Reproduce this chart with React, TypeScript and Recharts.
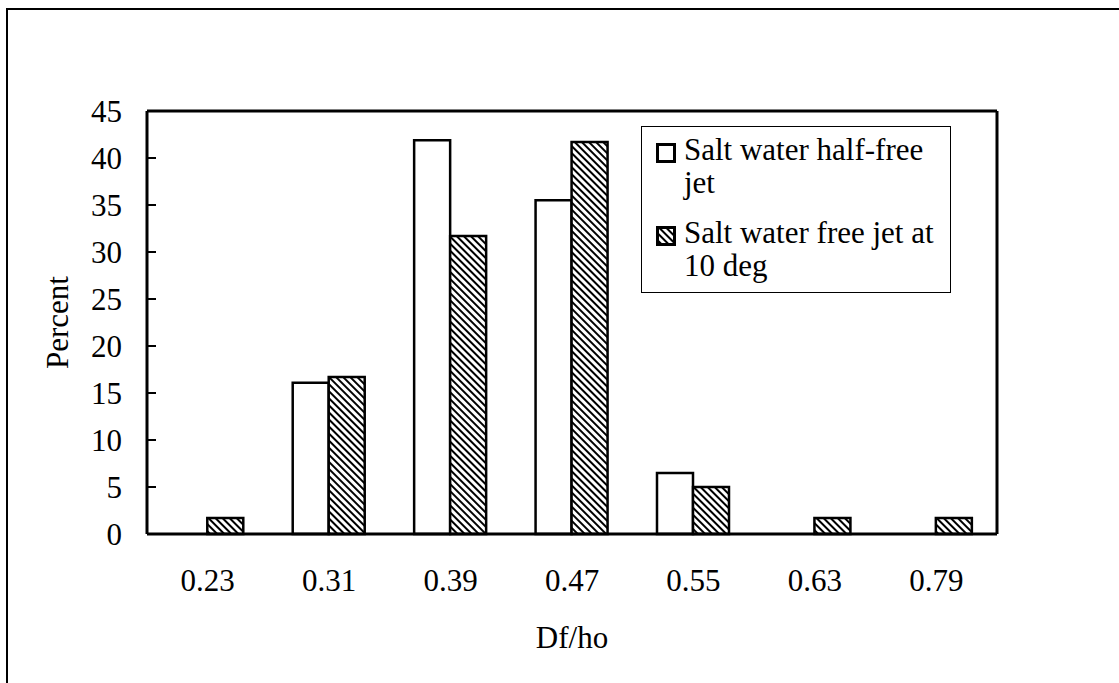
import React from 'react';
import { BarChart, Bar, XAxis, YAxis, Legend, Label } from 'recharts';

const categories = ['0.23', '0.31', '0.39', '0.47', '0.55', '0.63', '0.79'];
const halfFreeJet = [0, 16.1, 41.9, 35.5, 6.5, 0, 0];
const freeJet10deg = [1.7, 16.7, 31.7, 41.7, 5.0, 1.7, 1.7];
const yTicks = [0, 5, 10, 15, 20, 25, 30, 35, 40, 45];
const seriesNames = ['Salt water half-free jet', 'Salt water free jet at 10 deg'];

const data = categories.map((c, i) => ({ cat: c, half: halfFreeJet[i], free: freeJet10deg[i] }));

const FONT = 'Liberation Serif, Times New Roman, serif';
const FS = 31;

const HatchDefs = ({ id }: { id: string }) => (
  <defs>
    <pattern id={id} patternUnits="userSpaceOnUse" width={5} height={5} patternTransform="rotate(-45)">
      <rect x={0} y={0} width={5} height={5} fill="#fff" />
      <line x1={1} y1={0} x2={1} y2={5} stroke="#000" strokeWidth={2} />
    </pattern>
  </defs>
);

const Swatch = ({ hatched }: { hatched: boolean }) => (
  <svg width={20} height={20} style={{ flex: 'none', marginTop: 10, marginRight: 8, display: 'block' }}>
    {hatched && <HatchDefs id="hatchLegend" />}
    <rect x={1.5} y={1.5} width={17} height={17} fill={hatched ? 'url(#hatchLegend)' : '#fff'} stroke="#000" strokeWidth={3} />
  </svg>
);

const textStyle: React.CSSProperties = {
  fontFamily: FONT,
  fontSize: FS,
  lineHeight: '33px',
  color: '#000',
  whiteSpace: 'nowrap',
};

const LegendBox = () => (
  <div
    style={{
      border: '1.5px solid #000',
      background: '#fff',
      width: 310,
      height: 167,
      boxSizing: 'border-box',
      padding: '6px 0 0 14px',
      fontFamily: FONT,
      textAlign: 'left',
    }}
  >
    <div style={{ display: 'flex', alignItems: 'flex-start' }}>
      <Swatch hatched={false} />
      <span style={textStyle}>Salt water half-free<br />jet</span>
    </div>
    <div style={{ display: 'flex', alignItems: 'flex-start', marginTop: 17 }}>
      <Swatch hatched={true} />
      <span style={textStyle}>Salt water free jet at<br />10 deg</span>
    </div>
  </div>
);

const YTitle = (props: any) => {
  const vb = props.viewBox || {};
  const cx = vb.x - 10;
  const cy = vb.y + vb.height / 2;
  return (
    <text x={cx} y={cy} transform={`rotate(-90 ${cx} ${cy})`} textAnchor="middle" dominantBaseline="central"
      fontFamily={FONT} fontSize={FS} fill="#000">Percent</text>
  );
};

export default function App() {
  return (
    <div style={{ position: 'absolute', left: 0, top: 0, width: 1119, height: 683, background: '#fff' }}>
      <div style={{ position: 'absolute', left: 6, top: 8, width: 1113, height: 675, borderTop: '2px solid #000', borderLeft: '2px solid #000', boxSizing: 'border-box' }} />
      <BarChart
        width={1119}
        height={683}
        data={data}
        margin={{ top: 110, right: 121, bottom: 29, left: 67 }}
        barCategoryGap="20%"
        barGap={0}
      >
        <HatchDefs id="hatchBar" />
        <XAxis xAxisId="top" orientation="top" dataKey="cat" height={1} tick={false} tickLine={false}
          axisLine={{ stroke: '#000', strokeWidth: 3 }} />
        <YAxis yAxisId="right" orientation="right" width={1} domain={[0, 45]} ticks={yTicks} tick={false} tickLine={false}
          axisLine={{ stroke: '#000', strokeWidth: 3 }} />
        <XAxis xAxisId="bottom" dataKey="cat" height={120} tickLine={false} tickSize={0} tickMargin={35}
          axisLine={{ stroke: '#000', strokeWidth: 3 }}
          tick={{ fill: '#000', fontFamily: FONT, fontSize: FS }}>
          <Label value="Df/ho" position="insideBottom" offset={6} style={{ fill: '#000', fontFamily: FONT, fontSize: FS }} />
        </XAxis>
        <YAxis yAxisId="left" width={80} domain={[0, 45]} ticks={yTicks} interval={0}
          tickSize={-9} tickMargin={34}
          tickLine={{ stroke: '#000', strokeWidth: 2 }}
          axisLine={{ stroke: '#000', strokeWidth: 3 }}
          tick={{ fill: '#000', fontFamily: FONT, fontSize: FS }}>
          <Label content={<YTitle />} />
        </YAxis>
        <Legend layout="horizontal" verticalAlign="middle" align="center"
          wrapperStyle={{ left: 641, top: 126, width: 310, height: 167 }}
          content={() => <LegendBox />} />
        <Bar xAxisId="bottom" yAxisId="left" dataKey="half" name={seriesNames[0]} fill="#fff" stroke="#000" strokeWidth={2.5} isAnimationActive={false} />
        <Bar xAxisId="bottom" yAxisId="left" dataKey="free" name={seriesNames[1]} fill="url(#hatchBar)" stroke="#000" strokeWidth={2.5} isAnimationActive={false} />
      </BarChart>
    </div>
  );
}
